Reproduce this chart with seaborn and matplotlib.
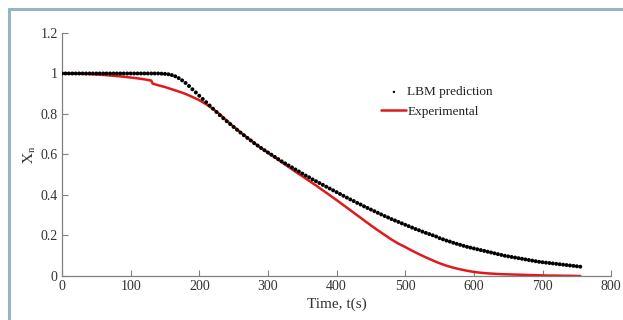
import numpy as np
import pandas as pd
import matplotlib
matplotlib.use("Agg")
import matplotlib.pyplot as plt
import seaborn as sns
from matplotlib.lines import Line2D

# LBM prediction, one value every 5 s from 0 to 755 s
lbm_time = list(range(0, 760, 5))
lbm_xn = [
    1.000, 1.000, 1.000, 1.000, 1.000, 1.000, 1.000, 1.000, 1.000, 1.000,
    1.000, 1.000, 1.000, 1.000, 1.000, 1.000, 1.000, 1.000, 1.000, 1.000,
    1.000, 1.000, 1.000, 1.000, 1.000, 1.000, 1.000, 1.000, 1.000, 0.999,
    0.998, 0.996, 0.992, 0.986, 0.977, 0.966, 0.953, 0.938, 0.922, 0.906,
    0.890, 0.874, 0.858, 0.842, 0.826, 0.810, 0.794, 0.779, 0.764, 0.750,
    0.736, 0.722, 0.708, 0.695, 0.682, 0.669, 0.656, 0.644, 0.632, 0.621,
    0.610, 0.599, 0.588, 0.577, 0.566, 0.556, 0.546, 0.536, 0.526, 0.516,
    0.506, 0.496, 0.487, 0.477, 0.468, 0.459, 0.450, 0.441, 0.432, 0.423,
    0.414, 0.405, 0.396, 0.387, 0.378, 0.370, 0.361, 0.353, 0.344, 0.336,
    0.328, 0.320, 0.312, 0.304, 0.296, 0.289, 0.281, 0.274, 0.267, 0.260,
    0.253, 0.246, 0.239, 0.232, 0.226, 0.219, 0.213, 0.207, 0.201, 0.195,
    0.187, 0.181, 0.175, 0.170, 0.164, 0.159, 0.154, 0.149, 0.144, 0.140,
    0.136, 0.132, 0.128, 0.124, 0.120, 0.116, 0.112, 0.108, 0.104, 0.100,
    0.097, 0.094, 0.091, 0.088, 0.085, 0.082, 0.079, 0.076, 0.073, 0.070,
    0.068, 0.066, 0.064, 0.062, 0.060, 0.058, 0.056, 0.054, 0.052, 0.050,
    0.048, 0.046,
]

# experimental curve
exp_time = [
    0, 10, 20, 30, 40, 50, 60, 70, 80, 90, 100, 110, 120, 130, 132, 140, 150,
    160, 170, 180, 190, 200, 210, 220, 230, 240, 250, 260, 270, 280, 290, 300,
    310, 320, 330, 340, 350, 360, 370, 380, 390, 400, 410, 420, 430, 440, 450,
    460, 470, 480, 490, 500, 510, 520, 530, 540, 550, 560, 570, 580, 590, 600,
    610, 620, 630, 640, 650, 660, 670, 680, 690, 700, 710, 720, 730, 740, 750,
    755,
]
exp_xn = [
    1.000, 1.000, 0.999, 0.998, 0.997, 0.995, 0.993, 0.990, 0.987, 0.984,
    0.980, 0.976, 0.971, 0.965, 0.950, 0.942, 0.933, 0.922, 0.911, 0.899,
    0.884, 0.868, 0.848, 0.825, 0.798, 0.767, 0.738, 0.710, 0.683, 0.657,
    0.632, 0.609, 0.586, 0.562, 0.539, 0.515, 0.493, 0.470, 0.447, 0.423,
    0.399, 0.375, 0.350, 0.325, 0.300, 0.275, 0.250, 0.226, 0.203, 0.180,
    0.160, 0.143, 0.125, 0.108, 0.092, 0.077, 0.063, 0.051, 0.041, 0.033,
    0.026, 0.020, 0.016, 0.013, 0.011, 0.009, 0.008, 0.007, 0.006, 0.005,
    0.004, 0.003, 0.002, 0.002, 0.001, 0.001, 0.000, 0.000,
]

x_ticks = [0, 100, 200, 300, 400, 500, 600, 700, 800]
y_ticks = [0, 0.2, 0.4, 0.6, 0.8, 1.0, 1.2]

lbm = pd.DataFrame({"t": lbm_time, "xn": lbm_xn})
exp = pd.DataFrame({"t": exp_time, "xn": exp_xn})

sns.set_style("ticks")
plt.rcParams["font.family"] = ["Liberation Serif", "DejaVu Serif"]
plt.rcParams["mathtext.fontset"] = "stix"

fig = plt.figure(figsize=(6.23, 3.2), dpi=100)
ax = fig.add_axes([0.0995, 0.1375, 0.8815, 0.7595])

sns.lineplot(ax=ax, data=exp, x="t", y="xn", color="#e0191c", linewidth=1.8,
             label="Experimental", zorder=2)
sns.scatterplot(ax=ax, data=lbm, x="t", y="xn", color="black", s=8,
                edgecolor="none", label="LBM prediction", zorder=3)

ax.set_xlim(0, 800)
ax.set_ylim(0, 1.2)
ax.set_xticks(x_ticks)
ax.set_yticks(y_ticks)
ax.set_xticklabels([str(v) for v in x_ticks])
ax.set_yticklabels(["%g" % v for v in y_ticks])
ax.tick_params(direction="in", length=4, width=0.8, color="#808080",
               labelsize=10, labelcolor="#333333", pad=3)
for side in ["top", "right"]:
    ax.spines[side].set_visible(False)
for side in ["left", "bottom"]:
    ax.spines[side].set_color("#808080")
    ax.spines[side].set_linewidth(0.9)

ax.set_xlabel("Time, t(s)", fontsize=11, color="#333333", labelpad=3)
ax.set_ylabel(r"$\mathrm{X_n}$", fontsize=11, color="#333333", labelpad=2)

# legend: dot first, then the red line
handles, labels = ax.get_legend_handles_labels()
order = [labels.index("LBM prediction"), labels.index("Experimental")]
leg = ax.legend([handles[i] for i in order], [labels[i] for i in order],
                loc="upper left", bbox_to_anchor=(0.56, 0.83), frameon=False,
                fontsize=9.5, handlelength=1.9, handletextpad=0.05,
                labelspacing=0.55, markerscale=0.6)
for t in leg.get_texts():
    t.set_color("#222222")

# light blue frame around the picture
fig.add_artist(Line2D([9 / 623, 1], [1 - 9 / 320, 1 - 9 / 320],
                      transform=fig.transFigure, color="#97b4c4", linewidth=2.2))
fig.add_artist(Line2D([9 / 623, 9 / 623], [0, 1 - 9 / 320],
                      transform=fig.transFigure, color="#97b4c4", linewidth=2.2))

fig.savefig("out.png", dpi=100, facecolor="white")
